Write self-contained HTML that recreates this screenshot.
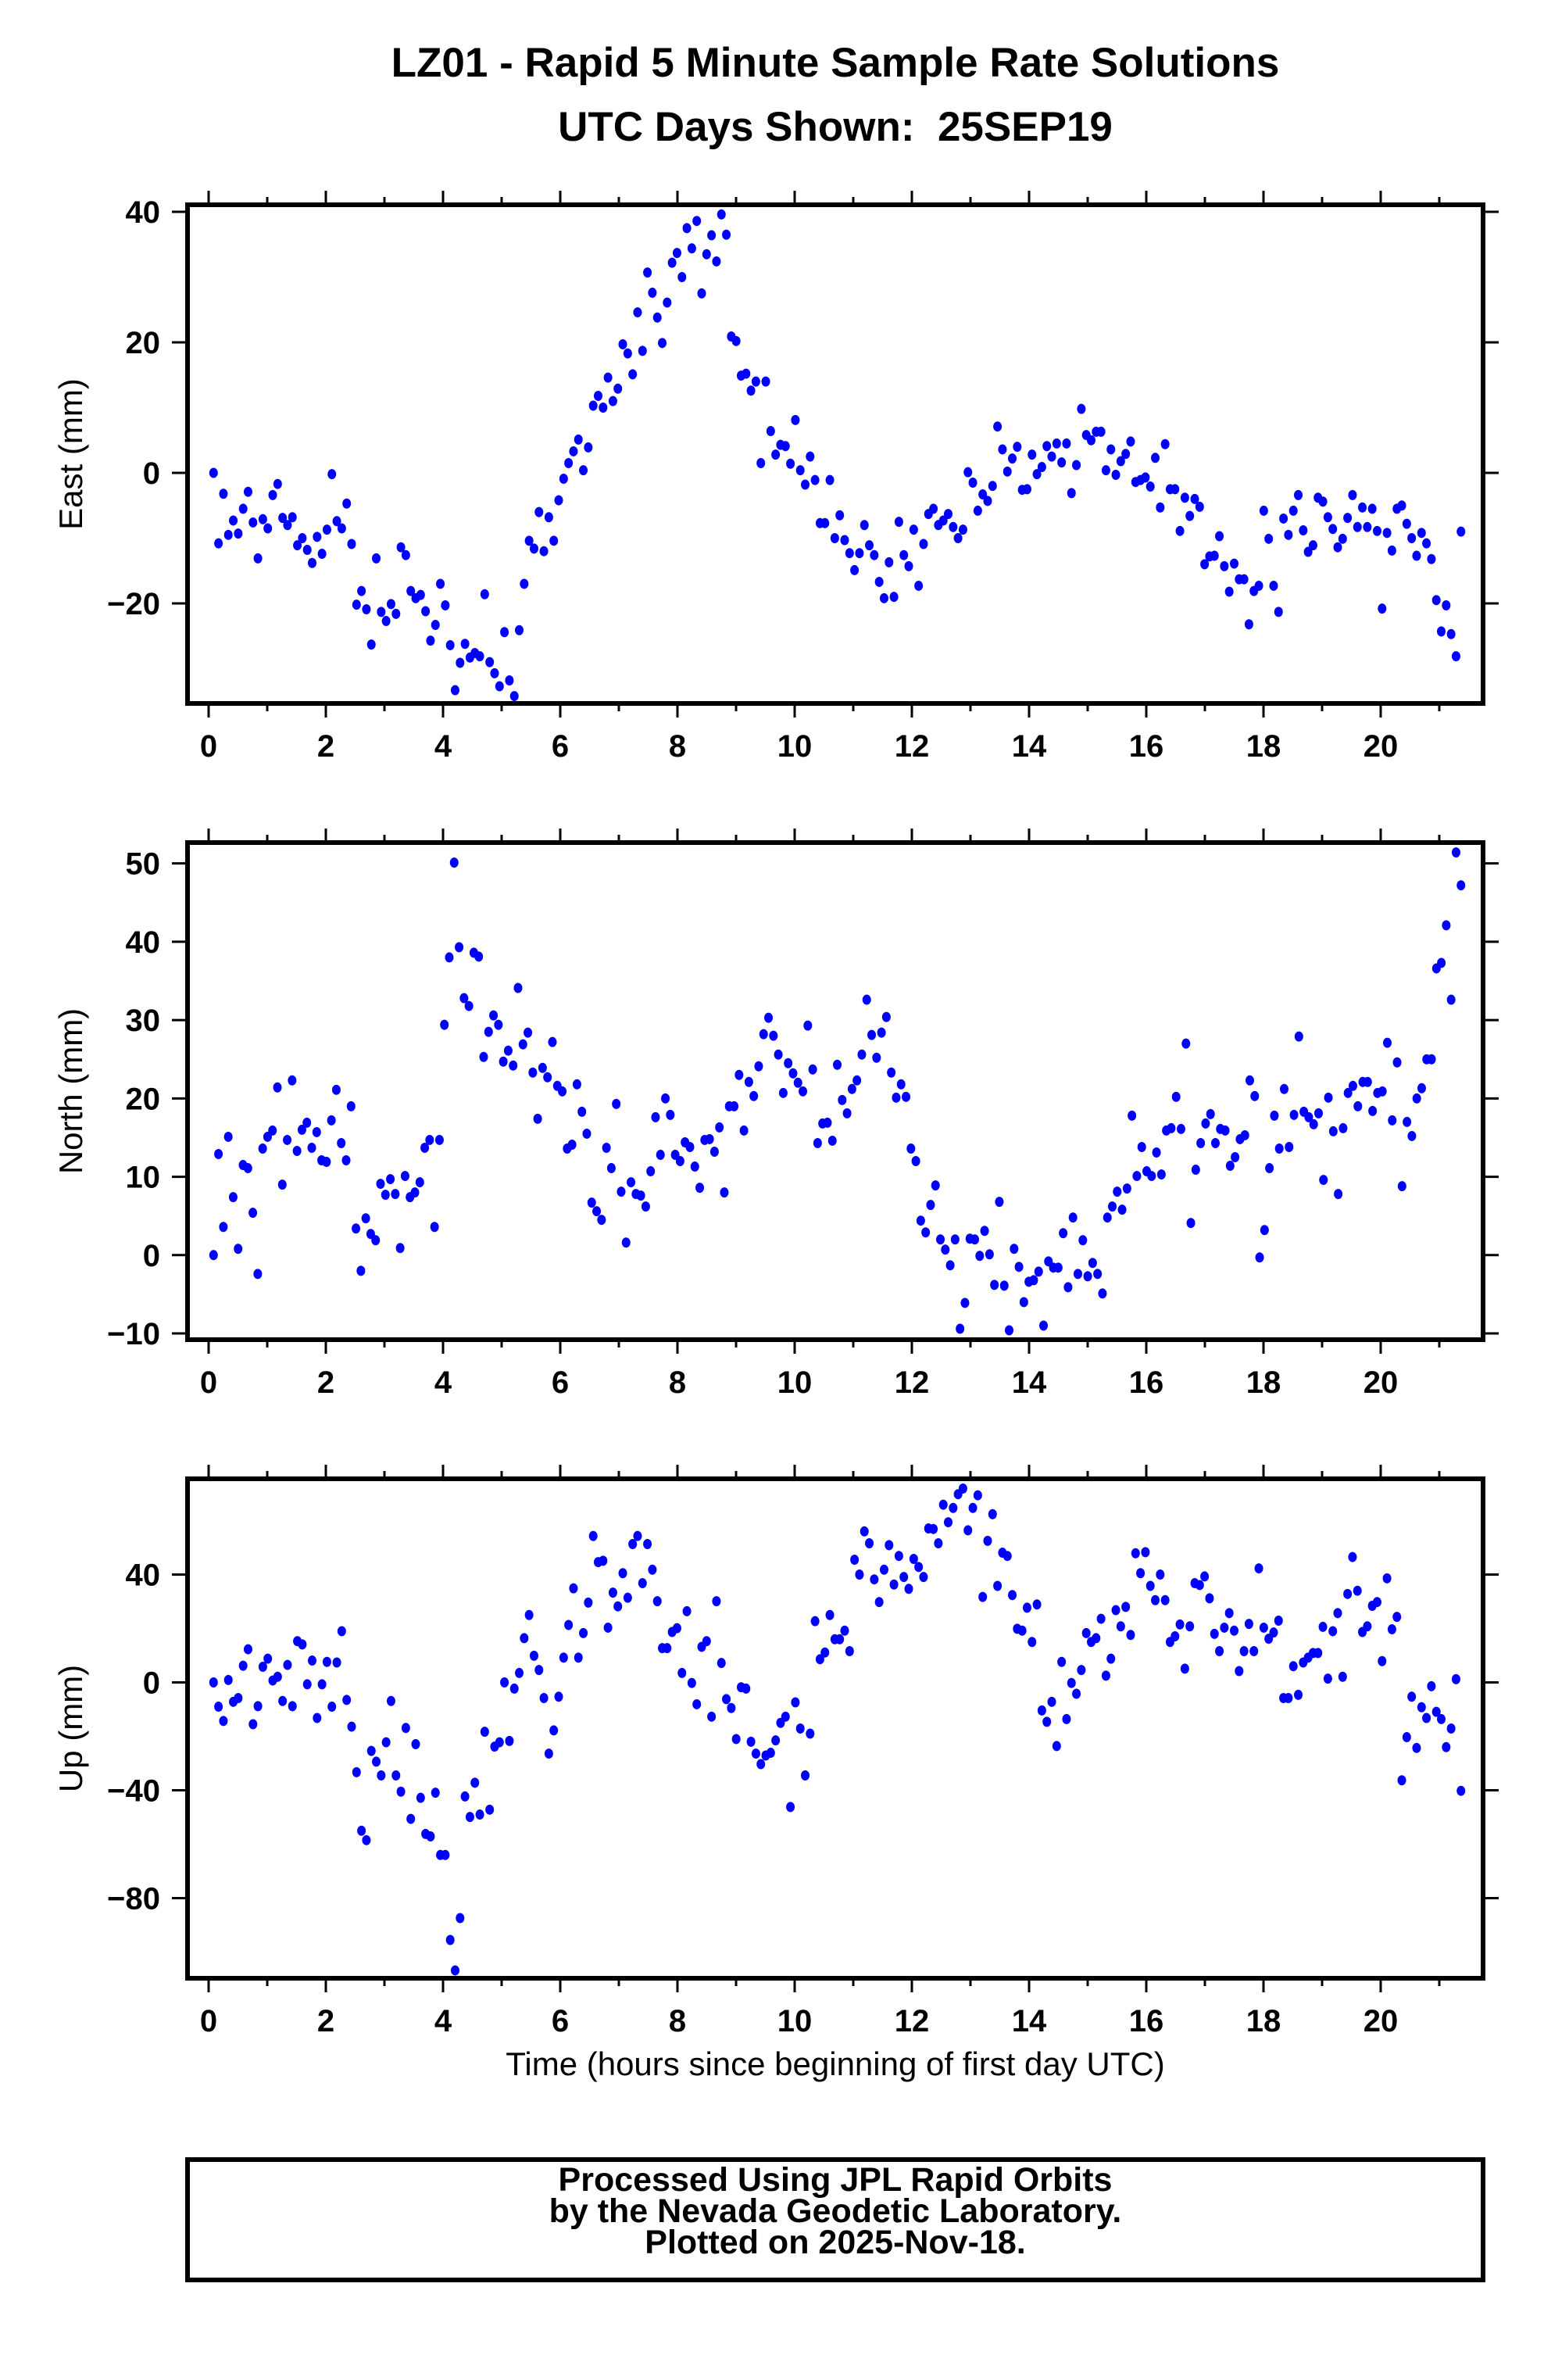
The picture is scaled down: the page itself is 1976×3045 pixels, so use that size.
<!DOCTYPE html>
<html><head><meta charset="utf-8"><style>
html,body{margin:0;padding:0;background:#fff;}
svg{display:block;}
text{font-family:"Liberation Sans",sans-serif;white-space:pre;}
</style></head><body>
<svg id="chart" width="1976" height="3045" viewBox="0 0 1976 3045" xmlns="http://www.w3.org/2000/svg">
<rect x="0" y="0" width="1976" height="3045" fill="#fff"/>
<text x="1069" y="98" text-anchor="middle" font-size="53" font-weight="bold">LZ01 - Rapid 5 Minute Sample Rate Solutions</text>
<text x="1069" y="180" text-anchor="middle" font-size="53" font-weight="bold" xml:space="preserve">UTC Days Shown:&#160; 25SEP19</text>
<g id="plots"></g>
<text x="1069" y="2655" text-anchor="middle" font-size="42">Time (hours since beginning of first day UTC)</text>
<rect x="240" y="2763" width="1658" height="154" fill="none" stroke="#000" stroke-width="6"/>
<text x="1069" y="2803" text-anchor="middle" font-size="43" font-weight="bold">Processed Using JPL Rapid Orbits</text>
<text x="1069" y="2843" text-anchor="middle" font-size="43" font-weight="bold">by the Nevada Geodetic Laboratory.</text>
<text x="1069" y="2883" text-anchor="middle" font-size="43" font-weight="bold">Plotted on 2025-Nov-18.</text>
</svg>
<script>
const xTicks = [0,2,4,6,8,10,12,14,16,18,20];
const eastTicks = [40,20,0,-20];
const northTicks = [50,40,30,20,10,0,-10];
const upTicks = [40,0,-40,-80];
const tStart = 0.084, tEnd = 21.37;
const eastVals = [0,-10.8,-3.2,-9.5,-7.3,-9.3,-5.5,-2.9,-7.6,-13.1,-7.1,-8.5,-3.4,-1.7,-6.9,-8,-6.8,-11.1,-10,-11.8,-13.8,-9.8,-12.4,-8.7,-0.2,-7.4,-8.5,-4.7,-10.9,-20.2,-18.1,-20.9,-26.3,-13.1,-21.3,-22.7,-20.1,-21.6,-11.4,-12.6,-18.1,-19.2,-18.7,-21.2,-25.7,-23.3,-17,-20.3,-26.4,-33.3,-29.1,-26.2,-28.3,-27.6,-28.1,-18.6,-29,-30.7,-32.7,-24.4,-31.8,-34.2,-24.1,-17,-10.4,-11.6,-6,-12,-6.8,-10.4,-4.2,-0.9,1.5,3.3,5.1,0.4,3.9,10.3,11.8,10,14.6,11,12.9,19.7,18.3,15.1,24.6,18.7,30.7,27.6,23.8,19.9,26.1,32.2,33.7,30,37.5,34.4,38.6,27.5,33.5,36.4,32.4,39.6,36.5,20.9,20.2,14.9,15.2,12.6,14,1.5,14,6.4,2.8,4.3,4.1,1.4,8.1,0.4,-1.8,2.5,-1.1,-7.7,-7.7,-1.1,-10,-6.5,-10.3,-12.3,-14.9,-12.3,-8,-11.1,-12.6,-16.7,-19.2,-13.7,-19,-7.5,-12.6,-14.3,-8.7,-17.3,-10.9,-6.3,-5.5,-8,-7.3,-6.3,-8.3,-10,-8.7,0.1,-1.5,-5.8,-3.3,-4.3,-2,7.1,3.6,0.2,2.2,4,-2.6,-2.5,2.8,-0.2,0.9,4.1,2.5,4.5,1.6,4.5,-3.1,1.2,9.8,5.8,5,6.3,6.3,0.4,3.6,-0.3,1.8,2.9,4.8,-1.4,-1.1,-0.7,-2.1,2.3,-5.3,4.4,-2.5,-2.5,-8.9,-3.8,-6.6,-4,-5.2,-14,-12.8,-12.7,-9.7,-14.3,-18.2,-13.9,-16.3,-16.3,-23.2,-18.1,-17.3,-5.8,-10.1,-17.3,-21.3,-7,-9.5,-5.8,-3.4,-8.8,-12.1,-11.1,-3.8,-4.4,-6.8,-8.6,-11.4,-10.1,-6.9,-3.4,-8.3,-5.3,-8.3,-5.5,-8.9,-20.8,-9.2,-11.9,-5.5,-5,-7.8,-10,-12.7,-9.2,-10.8,-13.2,-19.5,-24.3,-20.3,-24.7,-28.1,-9];
const northVals = [0,12.9,3.6,15.1,7.4,0.8,11.5,11.1,5.4,-2.4,13.6,15.1,15.9,21.4,9,14.7,22.3,13.3,16,16.9,13.7,15.7,12.1,11.9,17.2,21.1,14.3,12.1,19,3.4,-2,4.7,2.7,1.9,9.1,7.7,9.7,7.8,0.9,10.1,7.4,8,9.3,13.7,14.7,3.6,14.7,29.4,38,50.1,39.3,32.8,31.8,38.6,38.1,25.3,28.5,30.6,29.4,24.7,26.1,24.2,34.1,26.9,28.4,23.3,17.4,23.9,22.7,27.2,21.6,20.9,13.6,14.1,21.8,18.3,15.5,6.7,5.6,4.5,13.7,11.1,19.3,8.1,1.6,9.3,7.8,7.6,6.2,10.7,17.6,12.8,20,17.9,12.8,12,14.4,13.8,11.3,8.6,14.7,14.8,13.2,16.3,8,19,19,23,15.9,22.1,20.3,24.1,28.2,30.3,28,25.6,20.7,24.5,23.2,22,20.9,29.3,23.7,14.3,16.8,16.9,14.6,24.3,19.8,18.1,21.2,22.3,25.6,32.6,28.1,25.2,28.4,30.4,23.3,20.1,21.8,20.2,13.6,12,4.4,2.9,6.4,8.9,2,0.7,-1.3,2,-9.4,-6.1,2.1,2,-0.1,3.1,0.1,-3.8,6.8,-3.9,-9.6,0.8,-1.5,-6,-3.4,-3.2,-2.1,-9,-0.8,-1.6,-1.6,2.8,-4.1,4.8,-2.4,1.9,-2.7,-1,-2.4,-4.9,4.8,6.2,8.1,5.8,8.5,17.8,10.1,13.8,10.7,10.1,13.1,10.3,15.9,16.2,20.2,16.1,27,4.1,10.9,14.3,16.8,18,14.3,16.1,15.9,11.4,12.5,14.8,15.3,22.3,20.3,-0.3,3.2,11.1,17.8,13.6,21.2,13.8,17.9,27.9,18.3,17.6,16.7,18.1,9.6,20.1,15.8,7.8,16.2,20.7,21.6,19,22.1,22.1,18.4,20.7,20.9,27.1,17.2,24.6,8.8,17,15.2,20,21.3,25,25,36.6,37.3,42.1,32.6,51.4,47.2];
const upVals = [0,-9,-14.3,0.9,-7.2,-5.8,6.2,12.3,-15.5,-8.8,5.8,8.8,0.7,2.1,-6.9,6.5,-8.8,15.3,14.1,-0.7,8.1,-13.2,-0.7,7.6,-9,7.4,19,-6.5,-16.4,-33.3,-55,-58.5,-25.4,-29.4,-34.5,-22.2,-6.9,-34.5,-40.5,-16.9,-50.6,-22.9,-42.8,-56.2,-57.1,-40.9,-64,-64,-95.5,-106.8,-87.4,-42.3,-49.9,-37.2,-49,-18.3,-47.2,-23.8,-22.2,0,-21.7,-2.3,3.5,16.4,25,9.9,4.6,-5.8,-26.4,-17.8,-5.3,9.2,21.3,34.9,9.2,18.3,29.6,54.3,44.6,45.1,20.3,33.3,28.2,40.5,31.4,51.3,54.3,36.8,51.3,41.8,30.1,12.7,12.7,18.7,20.1,3.5,26.4,-0.2,-8.1,13.2,15.3,-12.7,30.1,7.2,-6.2,-9.5,-21,-1.8,-2.3,-22,-26.4,-30.3,-27.1,-26.1,-21.5,-15,-12.7,-46.2,-7.4,-17.1,-34.5,-19,22.7,8.6,11.1,25,16,16,19.2,11.6,45.5,40,56,51.6,38.2,29.8,41.8,50.9,36.3,46.9,39.1,34.7,45.8,42.8,39.1,57.1,56.9,51.6,65.9,59.4,64.7,69.8,71.9,56.4,64.7,69.4,31.7,52.5,62.4,35.8,48.1,46.9,32.4,19.9,19.2,27.7,15,28.9,-10.4,-14.6,-7.2,-23.6,7.6,-13.6,-0.2,-4.2,4.6,18.3,15,16.4,23.6,2.5,8.8,26.8,20.8,28,17.6,47.9,40.5,48.3,35.8,30.5,40,30.5,15,17.1,21.5,5.1,20.8,36.8,36.1,39.3,31.2,18,11.6,20.3,25.7,19.2,4.2,11.6,21.7,11.6,42.3,20.3,16.2,18.5,22.9,-5.8,-5.8,6,-4.6,7.4,9.2,10.9,10.9,20.6,1.4,19,25.7,2.1,32.8,46.5,34,18.7,20.8,28.4,29.8,7.9,38.6,19.7,24.3,-36.3,-20.3,-5.3,-24.3,-9.2,-13.2,-1.4,-10.9,-13.6,-24,-17.1,1.2,-40.2];

const NS='http://www.w3.org/2000/svg';
const X0=240, X1=1898;
function xPx(h){ return 267 + h*75; }
function mk(tag, attrs, parent){ const e=document.createElementNS(NS,tag); for(const k in attrs) e.setAttribute(k,attrs[k]); parent.appendChild(e); return e; }
const root=document.getElementById('plots');

function panel(name, top, bottom, zeroY, pxPerMm, ticks, vals, ylabel){
  const g=mk('g',{},root);
  
  
  const yPx = v => zeroY - v*pxPerMm;
  for(let h=0; h<=21; h++){
    const major = h%2===0;
    const len = major?18:10;
    const x=xPx(h);
    const t1=mk('line',{x1:x,x2:x,y1:top-len,y2:top,stroke:'#000','stroke-width':3},g);
    
    
    const t2=mk('line',{x1:x,x2:x,y1:bottom,y2:bottom+len,stroke:'#000','stroke-width':3},g);
    
    
  }
  xTicks.forEach(h=>{
    const t=mk('text',{x:xPx(h),y:bottom+68,'text-anchor':'middle','font-size':40,'font-weight':'bold'},g);
    t.textContent=h;
    
    
  });
  ticks.forEach(v=>{
    const y=yPx(v);
    const l1=mk('line',{x1:X0-20,x2:X0,y1:y,y2:y,stroke:'#000','stroke-width':3},g);
    
    
    const l2=mk('line',{x1:X1,x2:X1+20,y1:y,y2:y,stroke:'#000','stroke-width':3},g);
    
    
    const t=mk('text',{x:205,y:y+14,'text-anchor':'end','font-size':40,'font-weight':'bold'},g);
    t.textContent = v<0 ? '\u2212'+Math.abs(v) : String(v);
    
    
  });
  const yl=mk('text',{x:0,y:0,'text-anchor':'middle','font-size':42,transform:`translate(105,${(top+bottom)/2}) rotate(-90)`},g);
  yl.textContent=ylabel;
  
  
  const n=vals.length;
  const pts=mk('g',{fill:'#0000ff'},g);
  
  
  vals.forEach((v,i)=>{
    const h = tStart + i*(tEnd-tStart)/(n-1);
    const c=mk('ellipse',{cx:xPx(h),cy:yPx(v),rx:5.5,ry:6.5},pts);
    
    
  });
  const fr=mk('rect',{x:X0,y:top,width:X1-X0,height:bottom-top,fill:'none',stroke:'#000','stroke-width':6},g);
  
  
}
panel('east', 262, 900, 605, 8.35, eastTicks, eastVals, 'East (mm)');
panel('north', 1078, 1714, 1605.8, 10.023, northTicks, northVals, 'North (mm)');
panel('up', 1892, 2531, 2152.5, 3.45, upTicks, upVals, 'Up (mm)');
</script>
</body></html>
